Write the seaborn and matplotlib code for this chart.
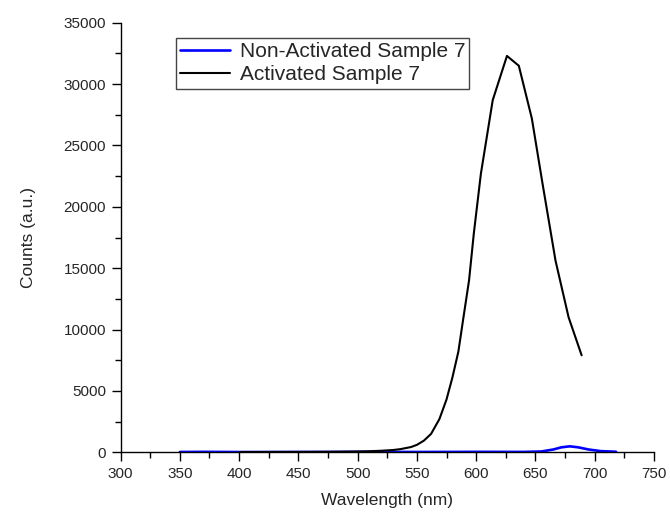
import pandas as pd
import matplotlib.pyplot as plt
import seaborn as sns
from matplotlib.ticker import MultipleLocator

#----------- DATA -------------
# non-activated sample 7 (blue)
wl_non = [350, 370, 400, 450, 500, 550, 600, 640, 655, 665, 672, 679, 686, 695, 705, 718]
counts_non = [20, 30, 15, 20, 25, 20, 30, 25, 60, 220, 400, 480, 400, 220, 90, 40]

# activated sample 7 (black)
wl_act = [400, 420, 440, 460, 480, 500, 510, 520, 530, 536, 545, 550, 556, 562, 569,
          575, 580, 585, 589, 594, 598, 604, 614, 626, 636, 647, 656, 667, 678, 689]
counts_act = [10, 15, 20, 25, 35, 60, 80, 120, 180, 250, 420, 600, 950, 1500, 2700,
              4300, 6100, 8200, 10800, 14000, 17800, 22700, 28700, 32300, 31500, 27200,
              21900, 15600, 11000, 7900]

df_non = pd.DataFrame({'Wavelength': wl_non, 'Counts': counts_non})
df_act = pd.DataFrame({'Wavelength': wl_act, 'Counts': counts_act})

#--------- PLOT ------------
sns.set_style('ticks')
plt.rcParams['font.family'] = ['Liberation Sans', 'DejaVu Sans']

fig = plt.figure(figsize=(6.7, 5.18), dpi=100)
ax = fig.add_axes([0.180, 0.127, 0.796, 0.829])

sns.lineplot(x='Wavelength', y='Counts', data=df_non, color='#0000ff', linewidth=1.9,
             label='Non-Activated Sample 7', ax=ax)
sns.lineplot(x='Wavelength', y='Counts', data=df_act, color='black', linewidth=1.5,
             label='Activated Sample 7', ax=ax)

ax.set_xlim(300, 750)
ax.set_ylim(0, 35000)
ax.xaxis.set_major_locator(MultipleLocator(50))
ax.xaxis.set_minor_locator(MultipleLocator(25))
ax.yaxis.set_major_locator(MultipleLocator(5000))
ax.yaxis.set_minor_locator(MultipleLocator(2500))
ax.tick_params(which='major', length=6.5, width=1, direction='out', labelsize=11, pad=4, color='black')
ax.tick_params(which='minor', length=4.5, width=1, direction='out', color='black')

for s in ['top', 'right']:
    ax.spines[s].set_visible(False)
for s in ['left', 'bottom']:
    ax.spines[s].set_color('black')
    ax.spines[s].set_linewidth(1)

ax.set_xlabel('Wavelength (nm)', fontsize=12.5, labelpad=9)
ax.set_ylabel('Counts (a.u.)', fontsize=12.5, labelpad=20)

leg = ax.legend(loc='upper left', bbox_to_anchor=(176 / 670, 1 - 38 / 518),
                bbox_transform=fig.transFigure, fontsize=15, frameon=True,
                fancybox=False, edgecolor='#444444', framealpha=1,
                handlelength=2.4, handletextpad=0.45, borderpad=0.2,
                labelspacing=0.2, borderaxespad=0)
leg.get_frame().set_linewidth(1)

fig.savefig('out.png', dpi=100)
